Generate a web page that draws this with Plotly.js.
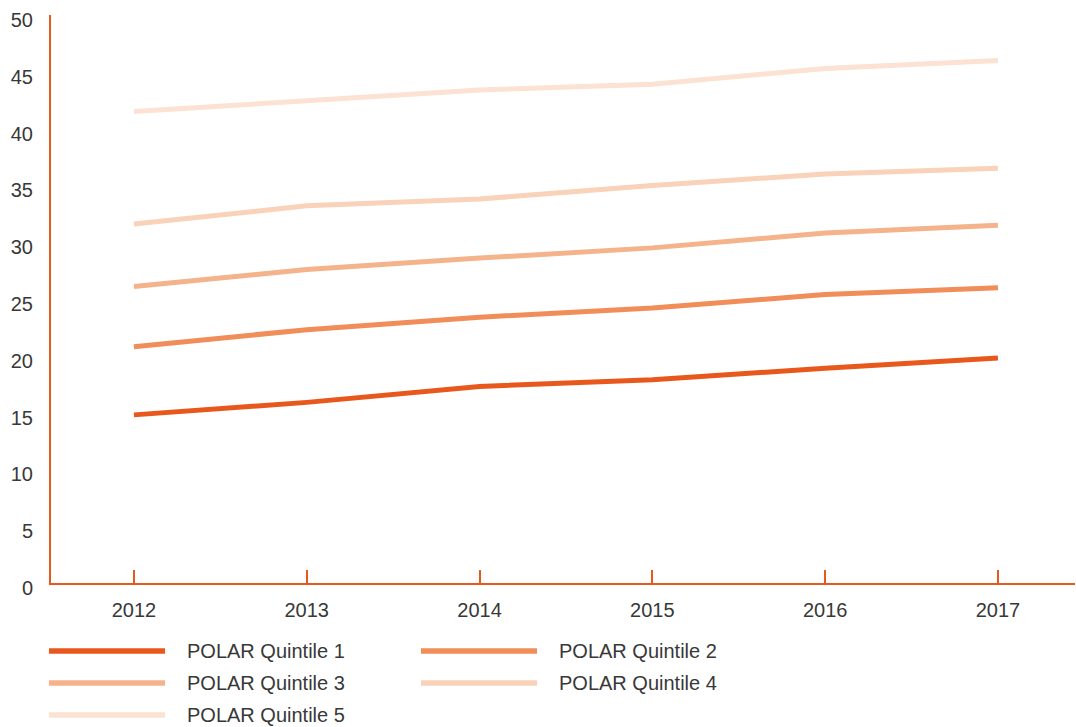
<!DOCTYPE html>
<html>
<head>
<meta charset="utf-8">
<script src="https://cdn.plot.ly/plotly-3.0.1.min.js"></script>
<style>html,body{margin:0;padding:0;background:#fff;}#chart{width:1076px;height:727px;}</style>
</head>
<body>
<div id="chart"></div>
<script>
const years = [2012, 2013, 2014, 2015, 2016, 2017];
const seriesNames = ["POLAR Quintile 1", "POLAR Quintile 2", "POLAR Quintile 3", "POLAR Quintile 4", "POLAR Quintile 5"];
const q1 = [14.8, 15.9, 17.3, 17.9, 18.9, 19.8];
const q2 = [20.8, 22.3, 23.4, 24.2, 25.4, 26.0];
const q3 = [26.1, 27.6, 28.6, 29.5, 30.8, 31.5];
const q4 = [31.6, 33.2, 33.8, 35.0, 36.0, 36.5];
const q5 = [41.5, 42.5, 43.4, 43.9, 45.3, 46.0];
const yTicks = [0, 5, 10, 15, 20, 25, 30, 35, 40, 45, 50];

const seriesValues = [q1, q2, q3, q4, q5];
const colors = ["#E8581C", "#F08D59", "#F4B38A", "#F9D2B9", "#FBE2D2"];
const axisColor = "#E8581C";
const font = {family: "Liberation Sans, Arial, sans-serif", size: 20, color: "#383838"};

const W = 1076, H = 727;
const M = {l: 51, r: 1, t: 15, b: 144};
const pw = W - M.l - M.r, ph = H - M.t - M.b;
const px2x = p => (p - M.l) / pw;
const px2y = p => (H - M.b - p) / ph;

const traces = seriesValues.map((vals, i) => ({
  type: "scatter", mode: "lines", x: years, y: vals, name: seriesNames[i],
  line: {color: colors[i], width: 5}, showlegend: false, hoverinfo: "x+y+name"
}));

// custom legend (long line swatches as in the reference)
const shapes = [], annotations = [];
const legendPos = [[48, 651], [420, 651], [48, 683], [420, 683], [48, 715]];
seriesNames.forEach((name, i) => {
  const [lx, ly] = legendPos[i];
  shapes.push({type: "line", xref: "paper", yref: "paper",
    x0: px2x(lx + 1), x1: px2x(lx + 117), y0: px2y(ly), y1: px2y(ly),
    line: {color: colors[i], width: 5.5}});
  annotations.push({xref: "paper", yref: "paper", x: px2x(lx + 136.5), y: px2y(ly),
    xanchor: "left", yanchor: "middle", text: name, showarrow: false, font: font});
});

const layout = {
  width: W, height: H, margin: M,
  paper_bgcolor: "#fff", plot_bgcolor: "#fff",
  font: font, showlegend: false,
  xaxis: {
    range: [2011.52, 2017.446], tickvals: years, ticktext: years.map(String),
    showgrid: false, zeroline: false, showline: true, linecolor: axisColor, linewidth: 2,
    ticks: "inside", ticklen: 13, tickwidth: 2, tickcolor: axisColor,
    tickfont: font, ticklabelstandoff: 8
  },
  yaxis: {
    range: [0, 50], tickvals: yTicks, ticktext: yTicks.map(String),
    showgrid: false, zeroline: false, showline: true, linecolor: axisColor, linewidth: 2,
    ticks: "", tickfont: font, ticklabelstandoff: 12, ticklabelshift: 5
  },
  shapes: shapes, annotations: annotations
};

Plotly.newPlot("chart", traces, layout, {displayModeBar: false, staticPlot: true});
</script>
</body>
</html>
